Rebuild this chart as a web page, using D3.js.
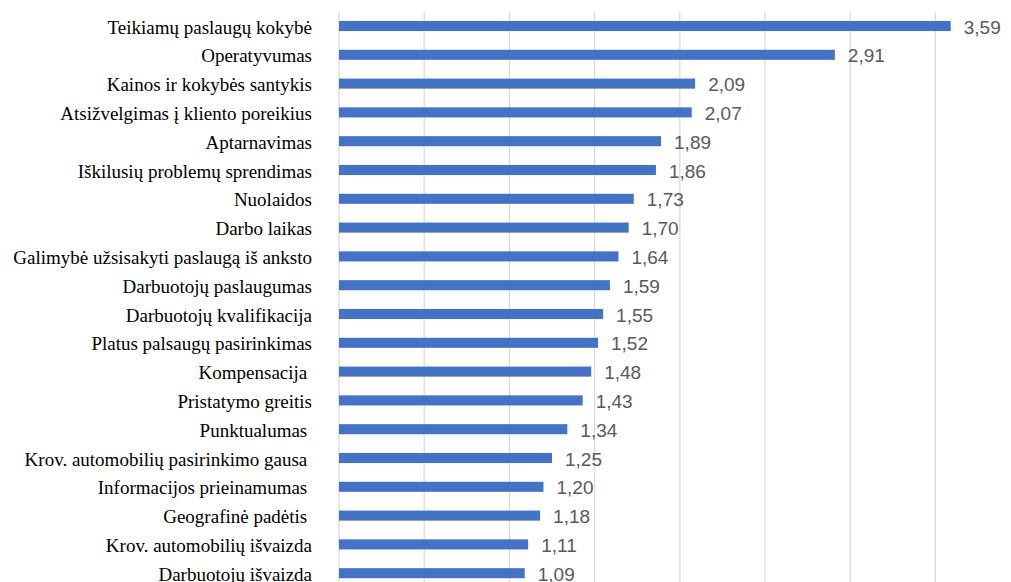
<!DOCTYPE html>
<html>
<head>
<meta charset="utf-8">
<script src="https://cdn.jsdelivr.net/npm/d3@7"></script>
<style>
    html, body { margin: 0; padding: 0; background: #fff; }
    svg { display: block; }
    .cat-label { font-family: "Liberation Serif", "Times New Roman", serif; font-size: 19px; fill: #000; white-space: pre; }
    .val-label { font-family: "Liberation Sans", Arial, sans-serif; font-size: 19px; fill: #595959; }
</style>
</head>
<body>
<svg id="chart"></svg>
<script>
const categories = [
    'Teikiamų paslaugų kokybė',
    'Operatyvumas',
    'Kainos ir kokybės santykis',
    'Atsižvelgimas į kliento poreikius',
    'Aptarnavimas',
    'Iškilusių problemų sprendimas',
    'Nuolaidos',
    'Darbo laikas',
    'Galimybė užsisakyti paslaugą iš anksto',
    'Darbuotojų paslaugumas',
    'Darbuotojų kvalifikacija',
    'Platus palsaugų pasirinkimas',
    'Kompensacija ',
    'Pristatymo greitis',
    'Punktualumas ',
    'Krov. automobilių pasirinkimo gausa ',
    'Informacijos prieinamumas ',
    'Geografinė padėtis ',
    'Krov. automobilių išvaizda',
    'Darbuotojų išvaizda'
]
const values = [3.59, 2.91, 2.09, 2.07, 1.89, 1.86, 1.73, 1.70, 1.64, 1.59,
    1.55, 1.52, 1.48, 1.43, 1.34, 1.25, 1.20, 1.18, 1.11, 1.09]
const gridTicks = [0, 0.5, 1, 1.5, 2, 2.5, 3, 3.5, 4]

const width = 1011
const height = 582
const svg = d3.select('#chart').attr('width', width).attr('height', height)

const x = d3.scaleLinear().domain([0, 4]).range([339, 339 + 170.4 * 4])
const y = d3.scaleBand().domain(categories).range([11.6, 11.6 + 28.8 * categories.length]).paddingInner(0.65).paddingOuter(0.325)

// vertical gridlines
svg.append('g')
    .selectAll('line')
    .data(gridTicks)
    .join('line')
    .attr('x1', d => x(d)).attr('x2', d => x(d))
    .attr('y1', 12).attr('y2', height + 20)
    .attr('stroke', '#d9d9d9')
    .attr('stroke-width', 1.2)

const data = categories.map((c, i) => ({ cat: c, val: values[i] }))

svg.append('g')
    .selectAll('rect')
    .data(data)
    .join('rect')
    .attr('x', x(0))
    .attr('y', d => y(d.cat))
    .attr('width', d => x(d.val) - x(0))
    .attr('height', y.bandwidth())
    .attr('fill', '#4472c4')

svg.append('g')
    .selectAll('text')
    .data(data)
    .join('text')
    .attr('class', 'cat-label')
    .attr('x', 312)
    .attr('y', d => y(d.cat) + y.bandwidth() / 2 + 1)
    .attr('text-anchor', 'end')
    .attr('dominant-baseline', 'central')
    .text(d => d.cat)

svg.append('g')
    .selectAll('text')
    .data(data)
    .join('text')
    .attr('class', 'val-label')
    .attr('x', d => x(d.val) + 13)
    .attr('y', d => y(d.cat) + y.bandwidth() / 2 + 1)
    .attr('dominant-baseline', 'central')
    .text(d => d.val.toFixed(2).replace('.', ','))
</script>
</body>
</html>
